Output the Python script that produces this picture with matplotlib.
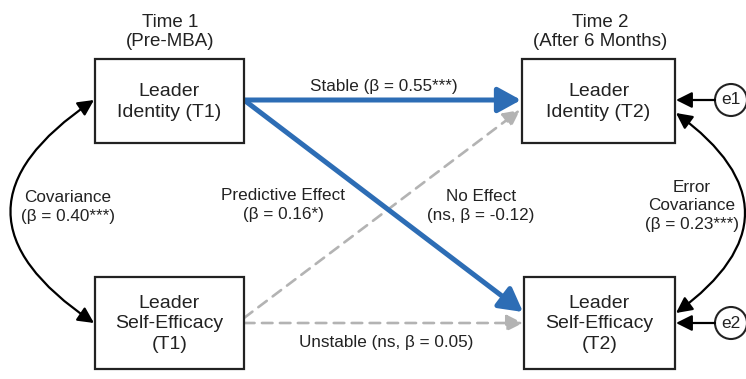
import matplotlib.pyplot as plt
from matplotlib.patches import Rectangle, Circle

plt.rcParams['font.family'] = ['Liberation Sans', 'DejaVu Sans']

# diagram content
time_titles = ["Time 1\n(Pre-MBA)", "Time 2\n(After 6 Months)"]
node_labels = ["Leader\nIdentity (T1)", "Leader\nSelf-Efficacy\n(T1)",
               "Leader\nIdentity (T2)", "Leader\nSelf-Efficacy\n(T2)"]
error_labels = ["e1", "e2"]
path_labels = ["Stable (β = 0.55***)", "No Effect\n(ns, β = -0.12)",
               "Predictive Effect\n(β = 0.16*)", "Unstable (ns, β = 0.05)"]
cov_labels = ["Covariance\n(β = 0.40***)", "Error\nCovariance\n(β = 0.23***)"]
path_sig = [True, True, False, False]

# layout (pixel space)
boxes = [(95, 59, 149, 84), (95, 277, 149, 92), (522, 59, 153, 84), (524, 277, 151, 92)]
blue = "#2d6db5"
gray = "#b3b3b3"
txt = '#222222'
fs = 12.3

fig = plt.figure(figsize=(7.46, 3.79), dpi=100)
ax = fig.add_axes([0, 0, 1, 1])
ax.set_xlim(0, 746)
ax.set_ylim(379, 0)
ax.axis('off')

ax.text(170, 32, time_titles[0], ha='center', va='center', fontsize=13.5,
        color=txt, linespacing=1.15)
ax.text(600, 32, time_titles[1], ha='center', va='center', fontsize=13.5,
        color=txt, linespacing=1.15)

for (x, y, w, h), lab in zip(boxes, node_labels):
    ax.add_patch(Rectangle((x, y), w, h, fill=True, facecolor='white',
                           edgecolor=txt, lw=1.6, zorder=3))
    ax.text(x + w / 2, y + h / 2 + 1, lab, ha='center', va='center', fontsize=14,
            color=txt, linespacing=1.25, zorder=4)

# paths: (start, end)
paths = [((244, 100), (521, 100)), ((244, 100), (523, 312)),
         ((244, 318), (520, 110)), ((244, 323), (523, 323))]
for (p0, p1), sig in zip(paths, path_sig):
    if sig:
        ax.annotate("", xy=p1, xytext=p0, zorder=2,
                    arrowprops=dict(arrowstyle='-|>,head_length=1.0,head_width=0.55',
                                    color=blue, lw=3.6, shrinkA=0, shrinkB=0,
                                    mutation_scale=14))
    else:
        ax.annotate("", xy=p1, xytext=p0, zorder=1,
                    arrowprops=dict(arrowstyle='-|>,head_length=0.9,head_width=0.45',
                                    color=gray, lw=1.9, ls=(0, (4, 2.8)), shrinkA=0, shrinkB=0,
                                    mutation_scale=11))

ax.text(384, 86, path_labels[0], ha='center', va='center', fontsize=fs, color=txt)
ax.text(481, 206, path_labels[1], ha='center', va='center', fontsize=fs,
        color=txt, linespacing=1.4)
ax.text(283, 205, path_labels[2], ha='center', va='center', fontsize=fs,
        color=txt, linespacing=1.35)
ax.text(386, 343, path_labels[3], ha='center', va='center', fontsize=fs, color=txt)

# covariances
ax.annotate("", xy=(94, 323), xytext=(94, 100),
            arrowprops=dict(arrowstyle='<|-|>,head_length=0.8,head_width=0.4',
                            color='black', lw=1.6, shrinkA=0, shrinkB=0,
                            connectionstyle='arc3,rad=0.74', mutation_scale=12))
ax.text(68, 207, cov_labels[0], ha='center', va='center', fontsize=fs,
        color=txt, linespacing=1.35)
ax.annotate("", xy=(676, 313), xytext=(676, 113),
            arrowprops=dict(arrowstyle='<|-|>,head_length=0.8,head_width=0.4',
                            color='black', lw=1.6, shrinkA=0, shrinkB=0,
                            connectionstyle='arc3,rad=-0.68', mutation_scale=12))
ax.text(692, 206, cov_labels[1], ha='center', va='center', fontsize=fs,
        color=txt, linespacing=1.25)

# error terms
for cy, lab in zip([100, 323], error_labels):
    ax.add_patch(Circle((731, cy), 16, facecolor='white', edgecolor=txt, lw=1.5, zorder=3))
    ax.text(731, cy, lab, ha='center', va='center', fontsize=12.5, color=txt, zorder=4)
    ax.annotate("", xy=(676, cy), xytext=(715, cy),
                arrowprops=dict(arrowstyle='-|>,head_length=0.8,head_width=0.4',
                                color='black', lw=1.6, shrinkA=0, shrinkB=0,
                                mutation_scale=12))

fig.savefig("out.png", dpi=100)
